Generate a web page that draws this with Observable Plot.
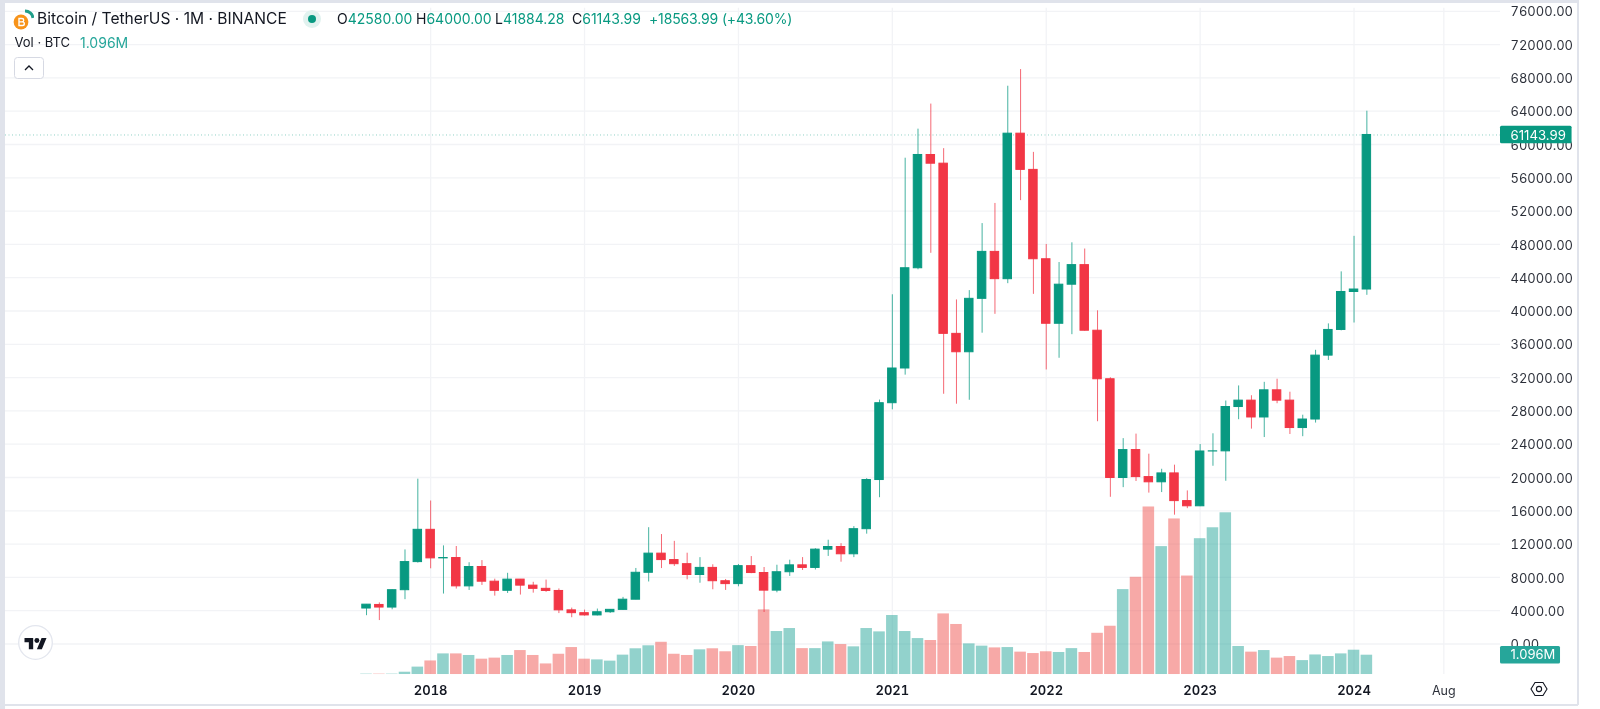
<!DOCTYPE html>
<html><head><meta charset="utf-8">
<script src="https://cdn.jsdelivr.net/npm/d3@7"></script>
<script src="https://cdn.jsdelivr.net/npm/@observablehq/plot@0.6"></script>
<style>
html,body{margin:0;padding:0;background:#fff}
#wrap{position:relative;width:1600px;height:709px;overflow:hidden;font-family:Inter,sans-serif;color:#131722;filter:blur(0.3px)}
#chart svg{display:block;background:none}
#wrap svg text{font-family:Inter,sans-serif}
.abs{position:absolute;white-space:nowrap;line-height:1}
.up{color:#089981}
.f{position:absolute;background:#e0e3eb}
</style></head><body>
<div id="wrap"><div id="chart"></div></div>
<script>
const months=["2017-08","2017-09","2017-10","2017-11","2017-12","2018-01","2018-02","2018-03","2018-04","2018-05","2018-06","2018-07","2018-08","2018-09","2018-10","2018-11","2018-12","2019-01","2019-02","2019-03","2019-04","2019-05","2019-06","2019-07","2019-08","2019-09","2019-10","2019-11","2019-12","2020-01","2020-02","2020-03","2020-04","2020-05","2020-06","2020-07","2020-08","2020-09","2020-10","2020-11","2020-12","2021-01","2021-02","2021-03","2021-04","2021-05","2021-06","2021-07","2021-08","2021-09","2021-10","2021-11","2021-12","2022-01","2022-02","2022-03","2022-04","2022-05","2022-06","2022-07","2022-08","2022-09","2022-10","2022-11","2022-12","2023-01","2023-02","2023-03","2023-04","2023-05","2023-06","2023-07","2023-08","2023-09","2023-10","2023-11","2023-12","2024-01","2024-02"];
const open=[4261,4690,4378,6463,9837,13716,10285,10326,6922,9246,7485,6391,7736,7011,6627,6370,4041,3701,3434,3814,4102,5322,8555,10854,10081,9589,8290,9141,7541,7195,9352,8524,6412,8620,9448,9138,11335,11650,10777,13791,19696,28924,33093,45134,58739,57697,37254,35045,41462,47101,43820,61300,56951,46217,38467,43160,45510,37631,31801,19942,23296,20048,19423,20491,17166,16542,23125,23142,28465,29233,27210,30472,29232,25941,26963,34640,37724,42284,42580];
const high=[4745,4939,6498,11300,19799,17176,11786,11710,9760,10020,7787,8492,7750,7410,7680,6615,4313,4070,4198,4140,5600,9074,13970,13147,12330,10906,10370,9514,7750,9553,10500,9188,9460,10067,10380,11444,12468,12051,14100,19863,29300,41950,58353,61844,64854,59500,41330,42448,50500,52920,67000,69000,59054,47990,45821,48190,47444,40024,31983,24668,25211,22799,20988,21481,18388,23961,25250,29185,31000,29820,31432,31804,30244,27484,35280,38450,44700,48969,64000];
const low=[3400,2817,4110,5325,9720,9035,6000,6600,6430,7033,5750,6070,5880,6111,6205,3653,3156,3350,3373,3671,4067,5316,7451,9060,9320,7710,7300,6515,6435,6871,8445,3782,6150,8117,8833,8893,10519,9825,10374,13195,17572,28130,32296,44951,46930,30000,28805,29278,37333,39600,43283,53257,42000,32917,34322,37155,37578,26700,17622,18781,19520,18126,18190,15476,16256,16499,21351,19549,26943,25811,24800,28862,25166,24901,26539,34061,37616,38555,41884];
const close=[4725,4379,6463,9839,13716,10285,10327,6924,9246,7485,6390,7731,7011,6627,6372,4041,3703,3434,3814,4104,5321,8555,10854,10081,9587,8289,9141,7542,7195,9353,8524,6410,8620,9448,9139,11335,11650,10777,13791,19696,28924,33093,45136,58741,57694,37254,35045,41462,47101,43824,61300,56951,46217,38467,43160,45510,37631,31801,19942,23293,20050,19423,20491,17164,16542,23125,23142,28465,29233,27210,30472,29232,25941,26963,34640,37724,42284,42580,61143.99];
const volume=[0.02,0.02,0.02,0.13,0.42,0.77,1.17,1.17,1.08,0.87,0.93,1.08,1.36,1.08,0.60,1.15,1.53,0.87,0.83,0.76,1.10,1.46,1.63,1.83,1.15,1.08,1.40,1.46,1.29,1.64,1.59,3.67,2.44,2.61,1.47,1.47,1.85,1.70,1.57,2.61,2.42,3.35,2.44,2.04,1.93,3.44,2.84,1.74,1.61,1.51,1.53,1.27,1.19,1.29,1.25,1.47,1.25,2.34,2.74,4.82,5.52,9.51,7.26,8.83,5.59,7.71,8.33,9.18,1.59,1.27,1.36,0.93,1.02,0.79,1.11,1.02,1.17,1.38,1.096];
const yearTicks=[5,17,29,41,53,65,77];
const yearLabels=["2018","2019","2020","2021","2022","2023","2024"];
const monthTicks=[84];
const monthLabels=["Aug"];
const priceTicks=d3.range(0,76001,4000);
const lastClose=61143.99, lastVolumeLabel="1.096M";

const UP="#089981",DOWN="#f23645",VUP="#26a69a",VDOWN="#ef5350";
const GRID="#f2f3f6";
const xMin=-28.15,xMax=88.42,badgeEnd=94,volBadgeEnd=93.1;
// the volume pane shares the price frame: millions of BTC mapped onto its own baseline
const volBase=-3665,volScale=2116;
const volY=v=>volBase+v*volScale;

const rows=months.map((m,i)=>({i,m,o:open[i],h:high[i],l:low[i],c:close[i],v:volume[i],up:close[i]>=open[i]}));
const fmt=v=>d3.format(".2f")(v);
const pad=1052;

const plot=Plot.plot({
  width:1600,height:709,marginLeft:5,marginRight:100,marginTop:10.8,marginBottom:65.5,
  x:{type:"linear",domain:[xMin,xMax]},
  y:{type:"linear",domain:[0,76000]},
  marks:[
    Plot.ruleY(priceTicks,{stroke:GRID,strokeWidth:1.3}),
    Plot.ruleX([...yearTicks,...monthTicks],{stroke:GRID,strokeWidth:1.3,y1:volBase,y2:76380}),
    Plot.axisY({anchor:"right",ticks:priceTicks,tickFormat:fmt,tickSize:0,tickPadding:10,textAnchor:"start",label:null,fontSize:13,fill:"#131722",fillOpacity:0.9,dy:1}),
    Plot.axisX({ticks:yearTicks,tickFormat:(d,i)=>yearLabels[yearTicks.indexOf(d)],tickSize:0,tickPadding:42,label:null,fontSize:13,fontWeight:600,fill:"#131722",style:{letterSpacing:"0.5px"}}),
    Plot.axisX({ticks:monthTicks,tickFormat:(d)=>monthLabels[monthTicks.indexOf(d)],tickSize:0,tickPadding:42,label:null,fontSize:12.5,fill:"#131722",fillOpacity:0.9}),
    Plot.rect(rows,{x1:d=>d.i-0.45,x2:d=>d.i+0.45,y1:volBase,y2:d=>volY(d.v),fill:d=>d.up?VUP:VDOWN,fillOpacity:0.5}),
    Plot.ruleY([lastClose],{stroke:UP,strokeOpacity:0.45,strokeDasharray:"1 2.5",strokeWidth:1}),
    Plot.ruleX(rows,{x:"i",y1:"l",y2:"h",stroke:d=>d.up?UP:DOWN,strokeWidth:1,strokeOpacity:0.75}),
    Plot.rect(rows,{x1:d=>d.i-0.33,x2:d=>d.i+0.33,y1:"o",y2:"c",fill:d=>d.up?UP:DOWN,stroke:d=>d.up?UP:DOWN,strokeWidth:1}),
    Plot.rect([lastClose],{x1:xMax,x2:badgeEnd,y1:d=>d-pad,y2:d=>d+pad,fill:UP,rx:1.5}),
    Plot.text([lastClose],{x:xMax,y:d=>d,dx:10,dy:0.5,text:fmt,textAnchor:"start",fill:"#fff",fontSize:13.2}),
    Plot.rect([volume[volume.length-1]],{x1:xMax,x2:volBadgeEnd,y1:d=>volY(d)-pad,y2:d=>volY(d)+pad,fill:VUP,rx:1.5}),
    Plot.text([volume[volume.length-1]],{x:xMax,y:d=>volY(d),dx:10,text:()=>lastVolumeLabel,textAnchor:"start",fill:"#fff",fontSize:13})
  ]
});
const wrap=document.getElementById("wrap");
document.getElementById("chart").appendChild(plot);

const T=(x,s,c="")=>`<div class="abs ${c}" style="left:${x}px;top:12px;font-size:14px">${s}</div>`;
const overlay=`
<div class="f" style="left:0;top:0;width:5px;height:709px"></div>
<div class="f" style="left:0;top:0;width:1578px;height:2.5px"></div>
<div class="f" style="left:1576.5px;top:0;width:2px;height:705px"></div>
<div class="f" style="left:0;top:703.5px;width:1578px;height:2px"></div>
<svg class="abs" style="left:12px;top:8px" width="22" height="24" viewBox="0 0 22 24">
  <path d="M13 3a8 8 0 0 1 8 7" fill="none" stroke="#1f9e8a" stroke-width="3"/>
  <circle cx="9" cy="14" r="7.4" fill="#f7931a"/>
  <path d="M7 10.5h3a1.7 1.7 0 0 1 0 3.4H7zM7 13.9h3.5a1.8 1.8 0 0 1 0 3.6H7z" fill="none" stroke="#fff" stroke-width="1.4"/>
</svg>
<div class="abs" style="left:37px;top:11px;font-size:15.6px">Bitcoin / TetherUS · 1M · BINANCE</div>
<svg class="abs" style="left:303px;top:10px" width="18" height="18"><circle cx="9" cy="9" r="9" fill="#e1f2ef"/><circle cx="9" cy="9" r="4" fill="#089981"/></svg>
${T(337,'O<span class="up">42580.00</span>')}
${T(416,'H<span class="up">64000.00</span>')}
${T(495,'L<span class="up">41884.28</span>')}
${T(572,'C<span class="up">61143.99</span>')}
<div class="abs up" style="left:649px;top:12px;font-size:14px;letter-spacing:-0.15px">+18563.99 (+43.60%)</div>
<div class="abs" style="left:14.5px;top:36px;font-size:13px">Vol · BTC</div>
<div class="abs" style="left:80px;top:35.5px;font-size:14px;color:#26a69a">1.096M</div>
<svg class="abs" style="left:14px;top:56.5px" width="30" height="22"><rect x=".5" y=".5" width="29" height="21" rx="3" fill="#fff" stroke="#d6d9e3"/><path d="M11 13l4-4 4 4" fill="none" stroke="#131722" stroke-width="1.3"/></svg>
<svg class="abs" style="left:18px;top:624.5px" width="35" height="35"><circle cx="17.5" cy="17.5" r="16.8" fill="#fff" stroke="#e3e6ee" stroke-width="1.3"/><g transform="translate(6.5,10.5) scale(.62)"><path d="M14 22H7V11H0V4h14v18zM28 22h-8l7.5-18h8L28 22z" fill="#131722"/><circle cx="20" cy="8" r="4" fill="#131722"/></g></svg>
<svg class="abs" style="left:1530px;top:681px" width="18" height="16"><path d="M5 1.5h8l4 6.5-4 6.5H5L1 8z" fill="none" stroke="#131722" stroke-width="1.1"/><circle cx="9" cy="8" r="2.6" fill="none" stroke="#131722" stroke-width="1.1"/></svg>`;
wrap.insertAdjacentHTML("beforeend",overlay);
</script>
</body></html>
